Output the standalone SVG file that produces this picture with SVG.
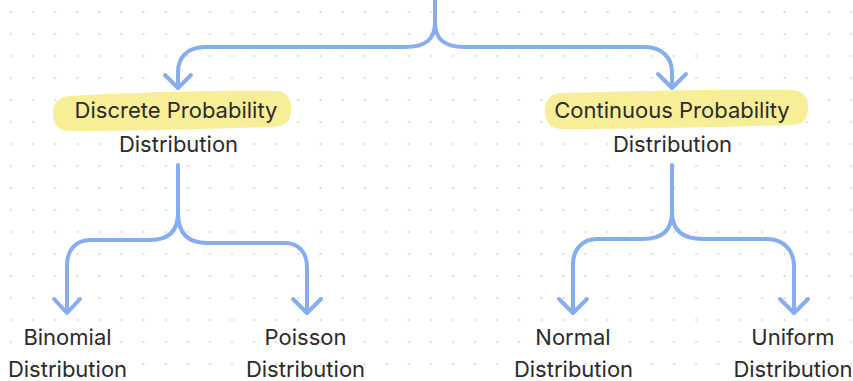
<svg xmlns="http://www.w3.org/2000/svg" width="853" height="381" viewBox="0 0 853 381">
<defs>
<pattern id="dots" patternUnits="userSpaceOnUse" x="0" y="1" width="22.1" height="22">
<circle cx="11" cy="11" r="1.1" fill="#d4d4d4"/>
</pattern>
<style>
.lbl{font-family:Inter,"Noto Sans",sans-serif;font-size:22px;fill:#2b2b2b;text-anchor:middle}
.hl{fill:#f8ee98}
.conn{fill:none;stroke:#85adef;stroke-width:4;stroke-linecap:round;stroke-linejoin:round}
</style>
</defs>
<rect width="853" height="381" fill="#ffffff"/>
<rect width="853" height="381" fill="url(#dots)"/>
<g id="connectors" class="conn">
<path d="M435,0 V22 C435,40 425,47 405,47 H205 C187,47 178,58 178,72 V86"/>
<path d="M165,75 L178,88 L191,75"/>
<path d="M435,22 C435,40 445,47 465,47 H645 C662,47 672,58 672,72 V86"/>
<path d="M658,74 L672,88 L686,74"/>
<path d="M178,165 V213 C178,232 168,240 150,240 H90 C76,240 67,250 67,265 V311"/>
<path d="M54,299 L67,313 L80,299"/>
<path d="M178,213 C178,235 190,243 207,243 H285 C298,243 307,252 307,267 V311"/>
<path d="M293,299 L307,313 L321,299"/>
<path d="M672,165 V212 C672,230 662,239 643,239 H597 C583,239 573,249 573,264 V311"/>
<path d="M559,299 L573,313 L587,299"/>
<path d="M672,212 C672,230 682,239 703,239 H767 C783,239 794,250 794,266 V311"/>
<path d="M780,299 L794,313 L808,299"/>
</g>
<g id="discrete">
<path class="hl" d="M70,96 C120,93 220,90 275,91 C290,91 292,104 291,112 C290,124 283,126 270,127 C200,129 120,131 70,131 C55,131 53,120 53,113 C53,103 58,97 70,96 Z"/>
<text class="lbl" x="176" y="118">Discrete Probability</text>
<text class="lbl" x="178.5" y="152">Distribution</text>
</g>
<g id="continuous">
<path class="hl" d="M560,93 C640,91 720,89 792,90 C806,90 809,103 808,110 C807,122 800,125 790,125 C720,127 640,129 562,129 C548,129 545,118 545,111 C545,100 550,94 560,93 Z"/>
<text class="lbl" x="672" y="118">Continuous Probability</text>
<text class="lbl" x="672.5" y="152">Distribution</text>
</g>
<g id="binomial">
<text class="lbl" x="67.5" y="345">Binomial</text>
<text class="lbl" x="67.5" y="377">Distribution</text>
</g>
<g id="poisson">
<text class="lbl" x="305.5" y="345">Poisson</text>
<text class="lbl" x="305.5" y="377">Distribution</text>
</g>
<g id="normal">
<text class="lbl" x="573" y="345">Normal</text>
<text class="lbl" x="573.5" y="377">Distribution</text>
</g>
<g id="uniform">
<text class="lbl" x="793" y="345">Uniform</text>
<text class="lbl" x="793" y="377">Distribution</text>
</g>
</svg>
